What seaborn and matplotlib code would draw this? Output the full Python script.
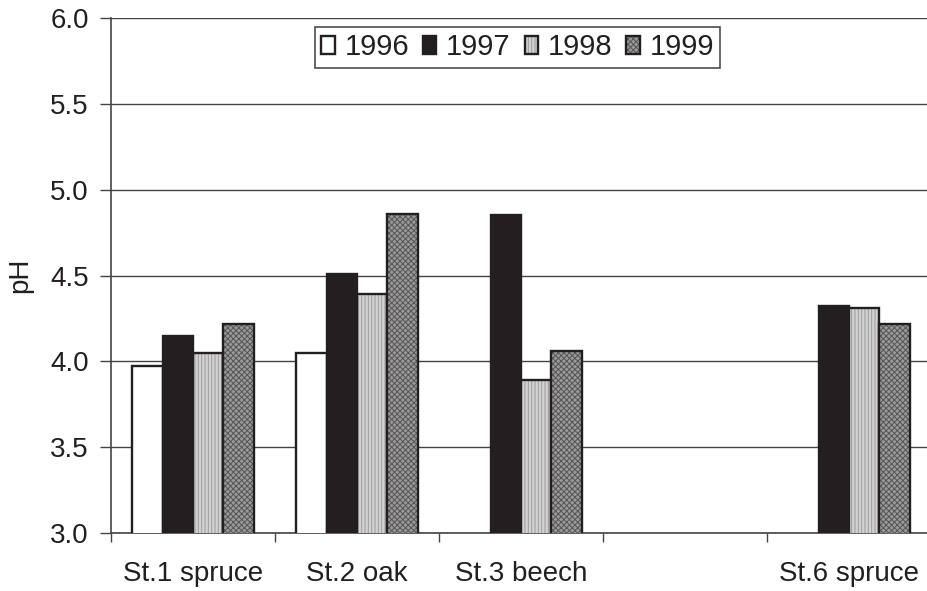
"""
Soil solution pH by site and year - grouped bar chart
"""

import matplotlib.pyplot as plt
import matplotlib.colors as mcolors
from matplotlib.ticker import FixedLocator, FormatStrFormatter
import numpy as np
import pandas as pd
import seaborn as sns

# =========================================================
# Data
# =========================================================

SITES = ["St.1 spruce", "St.2 oak", "St.3 beech", "St.4", "St.6 spruce"]
SITE_LABELS = ["St.1 spruce", "St.2 oak", "St.3 beech", "", "St.6 spruce"]
YEARS = ["1996", "1997", "1998", "1999"]

PH_1996 = [3.97, 4.05, np.nan, np.nan, np.nan]
PH_1997 = [4.15, 4.51, 4.85, np.nan, 4.32]
PH_1998 = [4.05, 4.39, 3.89, np.nan, 4.31]
PH_1999 = [4.22, 4.86, 4.06, np.nan, 4.22]

Y_TICKS = [3.0, 3.5, 4.0, 4.5, 5.0, 5.5, 6.0]

# =========================================================
# Plot Settings
# =========================================================

INK = "#231f20"

sns.set_theme(style="white")
plt.rcParams["font.family"] = ["Liberation Sans", "DejaVu Sans"]
plt.rcParams["hatch.linewidth"] = 0.7

FILLS = {"1996": "#ffffff", "1997": INK, "1998": "#d2d2d2", "1999": "#9a9a9a"}
HATCHES = {"1996": None, "1997": None, "1998": "|||||", "1999": "xxxxxx"}
HATCH_COLORS = {"1998": "#9a9a9a", "1999": "#555555"}

FONT = 20
LEGEND_FONT = 21

# =========================================================
# Build long table
# =========================================================

df = pd.DataFrame({
    "site": SITES * 4,
    "year": [y for y in YEARS for _ in SITES],
    "pH": PH_1996 + PH_1997 + PH_1998 + PH_1999,
}).dropna()

# =========================================================
# Figure
# =========================================================

fig = plt.figure(figsize=(9.28, 5.91), dpi=100)
ax = fig.add_axes([111 / 928, 58 / 591, 820 / 928, 515 / 591])

sns.barplot(
    data=df,
    x="site",
    y="pH",
    hue="year",
    order=SITES,
    hue_order=YEARS,
    palette=FILLS,
    width=0.74,
    gap=0,
    errorbar=None,
    edgecolor=INK,
    linewidth=1.7,
    saturation=1,
    legend=False,
    ax=ax,
)

for year, container in zip(YEARS, ax.containers):
    for patch in container.patches:
        patch.set_facecolor(FILLS[year])
        if HATCHES[year]:
            patch.set_hatch(HATCHES[year])
            patch._hatch_color = mcolors.to_rgba(HATCH_COLORS[year])
        patch.set_zorder(3)

# axes
ax.set_ylim(3.0, 6.0)
ax.set_xlim(-0.5, 4.5)
ax.set_yticks(Y_TICKS)
ax.yaxis.set_major_formatter(FormatStrFormatter("%.1f"))
ax.yaxis.grid(True, color="#444444", linewidth=1.0, zorder=0)
ax.set_axisbelow(True)

ax.set_xticks(range(len(SITES)))
ax.set_xticklabels(SITE_LABELS)
ax.xaxis.set_minor_locator(FixedLocator(np.arange(-0.5, len(SITES), 1.0)))

ax.tick_params(axis="x", which="major", length=0, pad=20,
               labelsize=FONT, labelcolor=INK)
ax.tick_params(axis="x", which="minor", bottom=True, length=6.5,
               width=1.0, color="#444444", direction="out")
ax.tick_params(axis="y", left=True, length=8, width=1.0,
               color="#444444", direction="out", pad=8,
               labelsize=FONT, labelcolor=INK)

ax.set_xlabel("")
ax.set_ylabel("pH", fontsize=FONT, color=INK, labelpad=12)

for side in ["top", "right"]:
    ax.spines[side].set_visible(False)
for side in ["left", "bottom"]:
    ax.spines[side].set_color("#444444")
    ax.spines[side].set_linewidth(1.2)

# legend
leg = ax.legend(
    ax.containers,
    YEARS,
    loc="upper center",
    bbox_to_anchor=(0.496, 0.983),
    borderaxespad=0,
    ncol=4,
    fontsize=LEGEND_FONT,
    frameon=True,
    fancybox=False,
    handlelength=0.45,
    handleheight=0.55,
    handletextpad=0.34,
    columnspacing=0.48,
    borderpad=0.22,
)
leg.get_frame().set_edgecolor(INK)
leg.get_frame().set_linewidth(1.2)
for text in leg.get_texts():
    text.set_color(INK)

fig.savefig("out.png", dpi=100)
